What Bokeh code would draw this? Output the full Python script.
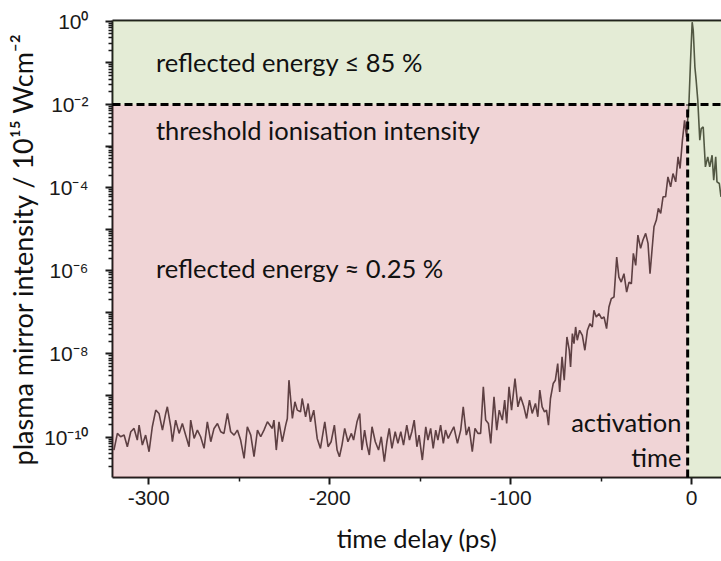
from bokeh.plotting import figure
from bokeh.models import (Range1d, FixedTicker, CustomJSTickFormatter, BoxAnnotation,
                          Label, LinearAxis)
from bokeh.embed import file_html
from bokeh.resources import INLINE

# ---- data ----
time_ps = [
    -319.2, -317.3, -315.5, -313.6, -311.8, -309.9, -308.1, -306.3, -305.3, -303.5,
    -301.7, -299.8, -298.0, -296.1, -294.3, -292.4, -290.6, -289.7, -287.8, -286.9,
    -285.1, -283.2, -281.4, -279.6, -277.7, -276.8, -274.9, -273.1, -271.3, -269.4,
    -267.6, -265.7, -263.9, -262.0, -260.2, -258.4, -256.5, -254.7, -252.8, -251.0,
    -249.2, -247.3, -245.5, -243.6, -241.8, -239.9, -238.1, -236.3, -234.4,
    -231.7, -230.8, -229.5, -228.0, -226.2, -224.3, -223.4, -222.5, -220.6, -219.2,
    -217.9, -216.1, -215.2, -213.3, -211.9, -210.6, -208.8, -206.9, -205.1, -202.7,
    -200.9, -199.2, -197.4, -195.9, -194.6, -193.2, -191.7, -189.9, -188.0, -186.8,
    -184.9, -183.4, -182.2, -180.7, -179.4, -178.1, -176.6, -174.8, -173.0, -171.5,
    -169.8, -168.4, -167.1, -165.6, -163.8, -162.3, -160.7, -159.2, -157.4, -155.9,
    -154.6, -153.3, -151.8, -150.6,
    -148.8, -146.9, -145.7, -144.2, -142.8, -141.4, -140.2, -138.7, -137.2, -136.0,
    -134.5, -133.2, -131.4, -129.4, -127.6, -126.2, -124.5, -123.0, -121.2, -119.7,
    -118.1, -116.6, -115.1, -113.8, -112.3, -111.0, -109.2, -107.7, -106.3, -104.6,
    -103.3, -102.2, -100.9, -99.5, -97.6, -96.0, -94.5, -92.7, -91.2, -89.6,
    -88.1, -86.3, -85.0, -83.9, -82.6, -81.3, -80.2, -79.1, -78.0, -76.5,
    -75.3, -74.0, -72.9, -71.6, -70.4, -68.9, -67.6,
    -66.9, -65.9, -65.0, -64.1, -63.2, -61.9, -60.4, -59.0, -57.6, -56.2,
    -54.9, -54.0, -52.7, -51.2, -49.7, -48.4, -47.0, -45.7, -44.4, -42.9,
    -41.4, -40.2, -38.9, -37.4, -35.9, -34.6, -33.3, -32.2, -30.9, -29.7,
    -28.2, -26.9, -25.4, -24.1, -23.0,
    -20.8, -19.5, -18.4, -17.1, -15.8, -14.4, -13.1, -11.6, -10.3, -8.8,
    -7.5, -6.4, -5.1, -3.9, -2.8, -2.2, -1.5, -0.6, 0.3, 0.9,
    1.8, 2.5, 3.4, 4.5, 5.3, 6.4, 7.6, 8.9, 10.0, 11.3,
    12.2, 13.3, 14.0, 15.3, 16.2,
]

# decimal exponent of the plasma mirror intensity (units of 1e15 W/cm^2)
log10_intensity = [
    -10.31, -9.91, -9.99, -9.95, -10.23, -9.87, -9.79, -10.07, -9.71, -10.19,
    -9.95, -10.35, -9.75, -9.35, -9.43, -9.83, -9.43, -9.27, -9.75, -10.11,
    -9.59, -9.91, -9.67, -9.95, -10.23, -9.59, -10.03, -9.83, -9.99, -10.27,
    -9.63, -10.11, -9.79, -9.67, -9.87, -9.91, -9.43, -9.87, -9.95, -9.83,
    -10.07, -10.51, -9.75, -9.95, -10.47, -9.83, -9.99, -9.83, -9.63,
    -9.79, -9.59, -10.31, -9.63, -10.11, -9.71, -9.55, -8.63, -9.55, -9.15,
    -9.35, -9.39, -9.07, -9.51, -9.19, -9.63, -9.35, -10.03, -10.27, -9.63,
    -10.23, -10.11, -9.71, -10.31, -10.47, -10.19, -9.79, -10.11, -9.91, -10.07,
    -9.63, -9.43, -10.31, -9.83, -10.19, -10.43, -9.75, -10.11, -10.31, -9.99,
    -10.59, -10.11, -9.79, -10.27, -9.87, -10.15, -9.87, -10.19, -9.71, -10.07,
    -9.87, -9.59, -10.23, -9.95,
    -10.55, -9.75, -10.07, -9.79, -10.27, -9.83, -10.07, -9.71, -10.15, -9.83,
    -10.03, -9.91, -9.75, -10.15, -9.83, -9.27, -9.95, -9.75, -10.35, -9.79,
    -9.91, -9.91, -8.79, -9.59, -9.67, -10.15, -9.03, -9.83, -9.35, -9.59,
    -9.11, -9.67, -8.79, -9.35, -8.59, -9.27, -9.03, -9.27, -9.55, -9.11,
    -9.43, -9.19, -9.51, -8.87, -9.27, -9.39, -9.35, -9.71, -9.07, -8.71,
    -8.63, -8.23, -8.91, -8.07, -8.63, -7.59, -7.91,
    -8.31, -7.51, -7.75, -7.35, -7.67, -7.43, -7.55, -7.91, -7.43, -7.27,
    -7.35, -6.95, -7.11, -7.03, -7.15, -7.11, -7.39, -6.87, -6.67, -6.63,
    -5.67, -6.15, -6.27, -6.07, -6.51, -6.27, -6.31, -5.58, -5.87, -5.14,
    -5.46, -5.26, -5.10, -5.34, -6.07,
    -4.94, -4.78, -4.50, -4.62, -4.22, -4.22, -3.74, -3.98, -3.66, -3.86,
    -3.26, -3.54, -2.86, -2.38, -2.78, -2.38, -1.98, -0.94, -0.02, -0.22,
    -1.10, -1.42, -1.90, -2.86, -2.58, -2.54, -3.50, -3.26, -3.50, -3.22,
    -3.82, -3.26, -3.86, -3.90, -4.22,
]

intensity = [10 ** v for v in log10_intensity]

threshold_intensity = 1e-2
activation_time_ps = -2.2

x_major_ticks = [-300, -200, -100, 0]
x_minor_ticks = [-250, -150, -50]
y_decades = list(range(-11, 1))

annotations = [
    ("reflected energy \u2264 85 %", -296.0, 10 ** -0.99, "left"),
    ("threshold ionisation intensity", -296.0, 10 ** -2.62, "left"),
    ("reflected energy \u2248 0.25 %", -296.0, 10 ** -5.93, "left"),
    ("activation", -5.6, 10 ** -9.64, "right"),
    ("time", -5.6, 10 ** -10.48, "right"),
]

# ---- figure ----
p = figure(width=721, height=561, y_axis_type="log",
           x_range=Range1d(-320, 16.5), y_range=Range1d(10 ** -10.97, 10 ** 0.02),
           output_backend="svg", toolbar_location=None,
           min_border_left=112, min_border_right=0, min_border_top=20, min_border_bottom=84)
p.outline_line_color = None
p.grid.visible = False
p.background_fill_color = "white"
p.border_fill_color = "white"

p.line(time_ps, intensity, line_color="#3c3a3b", line_width=1.6)

pink = (195, 83, 91)
green = (147, 179, 91)
p.add_layout(BoxAnnotation(right=activation_time_ps, top=threshold_intensity,
                           fill_color=pink, fill_alpha=0.25, line_color=None))
p.add_layout(BoxAnnotation(bottom=threshold_intensity,
                           fill_color=green, fill_alpha=0.25, line_color=None))
p.add_layout(BoxAnnotation(left=activation_time_ps, top=threshold_intensity,
                           fill_color=green, fill_alpha=0.25, line_color=None))

p.segment(x0=[p.x_range.start], y0=[threshold_intensity], x1=[p.x_range.end],
          y1=[threshold_intensity], line_color="black", line_width=3,
          line_dash="8 4", level="overlay")
p.segment(x0=[activation_time_ps], y0=[p.y_range.start], x1=[activation_time_ps],
          y1=[threshold_intensity], line_color="black", line_width=3,
          line_dash="8 4", level="overlay")

for txt, x, y, align in annotations:
    p.add_layout(Label(x=x, y=y, text=txt, text_align=align, text_baseline="middle",
                       text_font="Lato", text_font_size="25.5px", text_color="#111111"))

axis_color = "#1a1a1a"
for ax in (p.xaxis[0], p.yaxis[0]):
    ax.axis_line_color = axis_color
    ax.axis_line_width = 2
    ax.major_tick_line_color = axis_color
    ax.major_tick_line_width = 2
    ax.major_tick_in = 0
    ax.major_tick_out = 7
    ax.minor_tick_line_color = axis_color
    ax.minor_tick_line_width = 1.5
    ax.minor_tick_in = 0
    ax.minor_tick_out = 4
    ax.major_label_text_font = "Liberation Sans"
    ax.major_label_text_font_size = "21px"
    ax.major_label_text_color = axis_color
    ax.axis_label_text_font = "Lato"
    ax.axis_label_text_font_style = "normal"
    ax.axis_label_text_color = "#111111"

p.xaxis.ticker = FixedTicker(ticks=x_major_ticks, minor_ticks=x_minor_ticks)
p.xaxis.formatter = CustomJSTickFormatter(code="return String(Math.round(tick));")
p.xaxis.axis_label = "time delay (ps)"
p.xaxis.axis_label_text_font_size = "25.5px"
p.xaxis.major_label_standoff = 6
p.xaxis.axis_label_standoff = 15

p.yaxis.ticker = FixedTicker(ticks=[10.0 ** d for d in y_decades],
                             minor_ticks=[k * 10.0 ** d for d in y_decades for k in range(2, 10)])
p.yaxis.formatter = CustomJSTickFormatter(code="""
const e = Math.round(Math.log10(tick));
if (e % 2 !== 0) { return ""; }
const sup = {"0":"\\u2070","1":"\\u00b9","2":"\\u00b2","3":"\\u00b3","4":"\\u2074",
             "5":"\\u2075","6":"\\u2076","7":"\\u2077","8":"\\u2078","9":"\\u2079","-":"\\u207b"};
return "10" + String(e).split("").map(c => sup[c]).join("");
""")
p.yaxis.axis_label = "plasma mirror intensity / 10\u00b9\u2075 Wcm\u207b\u00b2"
p.yaxis.axis_label_text_font_size = "27px"
p.yaxis.major_label_standoff = 17
p.yaxis.axis_label_standoff = 2

top_border = LinearAxis(ticker=FixedTicker(ticks=[]), axis_line_color=axis_color,
                        axis_line_width=2, major_tick_line_color=None,
                        minor_tick_line_color=None)
p.add_layout(top_border, "above")

with open("out.html", "w", encoding="utf-8") as f:
    f.write(file_html(p, INLINE))
